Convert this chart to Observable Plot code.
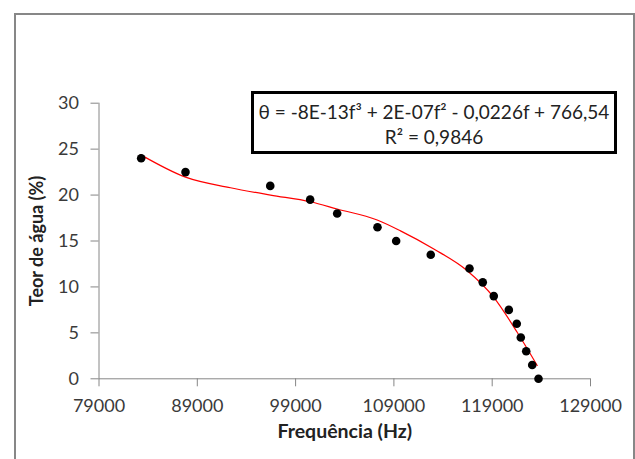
<!DOCTYPE html>
<html><head><meta charset="utf-8">
<script src="https://cdn.jsdelivr.net/npm/d3@7"></script>
<script src="https://cdn.jsdelivr.net/npm/@observablehq/plot@0.6"></script>
<style>
body{margin:0;background:#fff;}
#wrap{position:relative;width:635px;height:459px;overflow:hidden;font-family:Lato,"Open Sans",sans-serif;}
#border{position:absolute;left:14px;top:13px;width:617px;height:470px;border:2px solid #878787;}
#chart{position:absolute;left:0;top:0;}
#eq{position:absolute;left:251px;top:91px;width:360px;height:57px;border:3px solid #000;background:#fff;text-align:center;font-size:19px;line-height:25px;color:#222;box-sizing:content-box;}
#eq div{height:25px;white-space:nowrap;}
</style>
</head><body>
<div id="wrap"><div id="border"></div><div id="chart"></div>
<div id="eq"><div style="margin-top:5px">θ = -8E-13f³ + 2E-07f² - 0,0226f + 766,54</div><div>R² = 0,9846</div></div></div>
<script>
// Measured points
const freq = [83290, 87800, 96420, 100480, 103230, 107330, 109230, 112750, 116690, 118040, 119160, 120690, 121500, 121910, 122460, 123070, 123710];
const teor = [24, 22.5, 21, 19.5, 18, 16.5, 15, 13.5, 12, 10.5, 9, 7.5, 6, 4.5, 3, 1.5, 0];
// Polynomial trend line
const trendFreq = [83220, 87800, 92380, 96450, 100520, 103230, 107300, 109670, 113060, 116460, 119160, 121540, 123580];
const trendTeor = [24.4, 21.95, 20.8, 20.0, 19.27, 18.48, 17.28, 16.1, 14.13, 11.77, 8.87, 5.07, 1.45];
const xTicks = [79000, 89000, 99000, 109000, 119000, 129000];
const yTicks = [0, 5, 10, 15, 20, 25, 30];
const xTitle = "Frequência (Hz)";
const yTitle = "Teor de água (%)";

const points = freq.map((f, i) => ({f, t: teor[i]}));
const trend = trendFreq.map((f, i) => ({f, t: trendTeor[i]}));

const chart = Plot.plot({
  width: 635, height: 459,
  marginLeft: 98.5, marginRight: 45, marginTop: 102.7, marginBottom: 80.7,
  style: {background: "transparent", fontFamily: "Lato, 'Open Sans', sans-serif", fontSize: "18px", color: "#3a3a3a"},
  x: {domain: [79000, 129000]},
  y: {domain: [0, 30]},
  marks: [
    Plot.axisX(xTicks, {tickSize: 8, tickPadding: 12, tickFormat: d => String(d), label: null}),
    Plot.axisY(yTicks, {tickSize: 8, tickPadding: 12, tickFormat: d => String(d), label: null}),
    Plot.ruleY([0], {stroke: "#868686"}),
    Plot.ruleX([79000], {stroke: "#868686"}),
    Plot.line(trend, {x: "f", y: "t", stroke: "#ff0000", strokeWidth: 1.2, curve: "monotone-x"}),
    Plot.dot(points, {x: "f", y: "t", r: 4.3, fill: "#000"}),
    Plot.text([xTitle], {text: d => d, frameAnchor: "bottom", dy: 59, fontWeight: "bold", fontSize: 19.5, fill: "#222"}),
    Plot.text([yTitle], {text: d => d, frameAnchor: "left", textAnchor: "middle", dx: -61.5, rotate: -90, fontWeight: "bold", fontSize: 18, fill: "#222"})
  ]
});
d3.select(chart).selectAll('g[aria-label="x-axis tick"], g[aria-label="y-axis tick"]').attr("stroke", "#868686");
document.getElementById("chart").appendChild(chart);
</script>
</body></html>
